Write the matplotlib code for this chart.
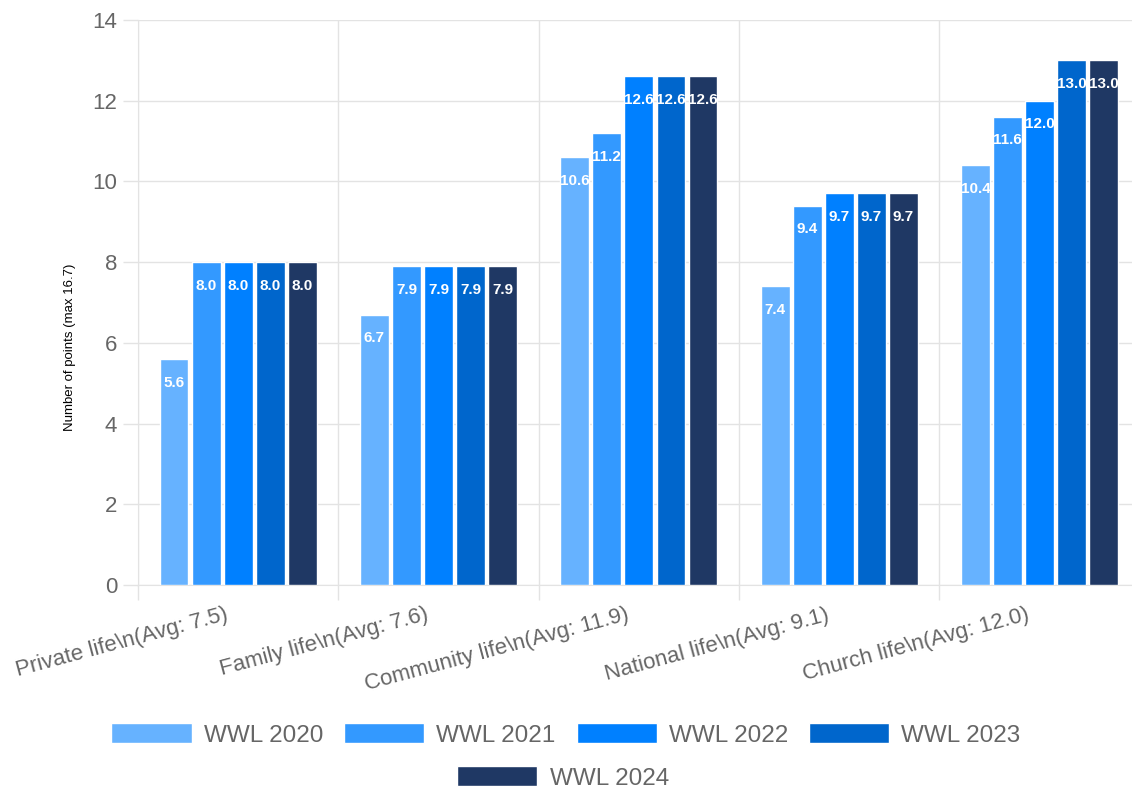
import matplotlib.pyplot as plt
import numpy as np
from matplotlib.patches import Patch

plt.rcParams["font.family"] = ["Liberation Sans", "DejaVu Sans"]

categories = [
    "Private life\\n(Avg: 7.5)",
    "Family life\\n(Avg: 7.6)",
    "Community life\\n(Avg: 11.9)",
    "National life\\n(Avg: 9.1)",
    "Church life\\n(Avg: 12.0)",
]
series_names = ["WWL 2020", "WWL 2021", "WWL 2022", "WWL 2023", "WWL 2024"]
wwl_2020 = [5.6, 6.7, 10.6, 7.4, 10.4]
wwl_2021 = [8.0, 7.9, 11.2, 9.4, 11.6]
wwl_2022 = [8.0, 7.9, 12.6, 9.7, 12.0]
wwl_2023 = [8.0, 7.9, 12.6, 9.7, 13.0]
wwl_2024 = [8.0, 7.9, 12.6, 9.7, 13.0]
colors = ["#66b2ff", "#3399ff", "#0080ff", "#0066cc", "#1f3864"]

series = [wwl_2020, wwl_2021, wwl_2022, wwl_2023, wwl_2024]

GRID = "#e3e3e3"
TXT = "#666666"

fig = plt.figure(figsize=(11.32, 7.92), dpi=100)
ax = fig.add_axes([0.1219, 0.2614, 0.885, 0.7134])

x = np.arange(len(categories))
slot = 0.8 / len(series)
width = slot * 0.9

for i, (vals, col) in enumerate(zip(series, colors)):
    pos = x - 0.4 + slot * (i + 0.5)
    bars = ax.bar(pos, vals, width, color=col, edgecolor="white", linewidth=1, zorder=3)
    for b, v in zip(bars, vals):
        ax.annotate(f"{v:.1f}", (b.get_x() + b.get_width() / 2, v),
                    xytext=(0, -17), textcoords="offset points",
                    ha="center", va="center", color="white",
                    fontsize=11, fontweight="bold", zorder=4)

ax.set_xlim(-0.5, len(categories) - 0.5)
ax.set_ylim(0, 14)
ax.set_yticks(np.arange(0, 15, 2))
# label anchors sit a bit left of the group centre, like the original
ax.set_xticks(x - 0.065)
ax.set_xticklabels(categories, rotation=15, ha="right", va="top",
                   rotation_mode="anchor", color=TXT, fontsize=16)
ax.set_xticks(np.arange(-0.5, len(categories), 1), minor=True)

ax.tick_params(axis="x", which="major", length=0, pad=14)
ax.tick_params(axis="x", which="minor", length=11, color=GRID, width=1)
ax.tick_params(axis="y", length=11, color=GRID, width=1, labelcolor=TXT,
               labelsize=16, pad=4)

ax.grid(axis="y", color=GRID, linewidth=1, zorder=0)
ax.grid(axis="x", which="minor", color=GRID, linewidth=1, zorder=0)
for s in ["top", "right"]:
    ax.spines[s].set_visible(False)
for s in ["left", "bottom"]:
    ax.spines[s].set_color(GRID)

fig.text(70 / 1132, 1 - 347 / 792, "Number of points (max 16.7)",
         rotation=90, ha="center", va="center", fontsize=9.5, color="black")

handles = [Patch(facecolor=c, edgecolor="white") for c in colors]
leg_kw = dict(frameon=False, fontsize=17.5, handlelength=3.3, handleheight=0.9,
              handletextpad=0.5, columnspacing=0.86, labelcolor=TXT, loc="center")
fig.legend(handles[:4], series_names[:4], ncol=4,
           bbox_to_anchor=(566 / 1132, 1 - 735 / 792), **leg_kw)
fig.legend(handles[4:], series_names[4:], ncol=1,
           bbox_to_anchor=(563 / 1132, 1 - 778 / 792), **leg_kw)

fig.savefig("out.png", dpi=100)
